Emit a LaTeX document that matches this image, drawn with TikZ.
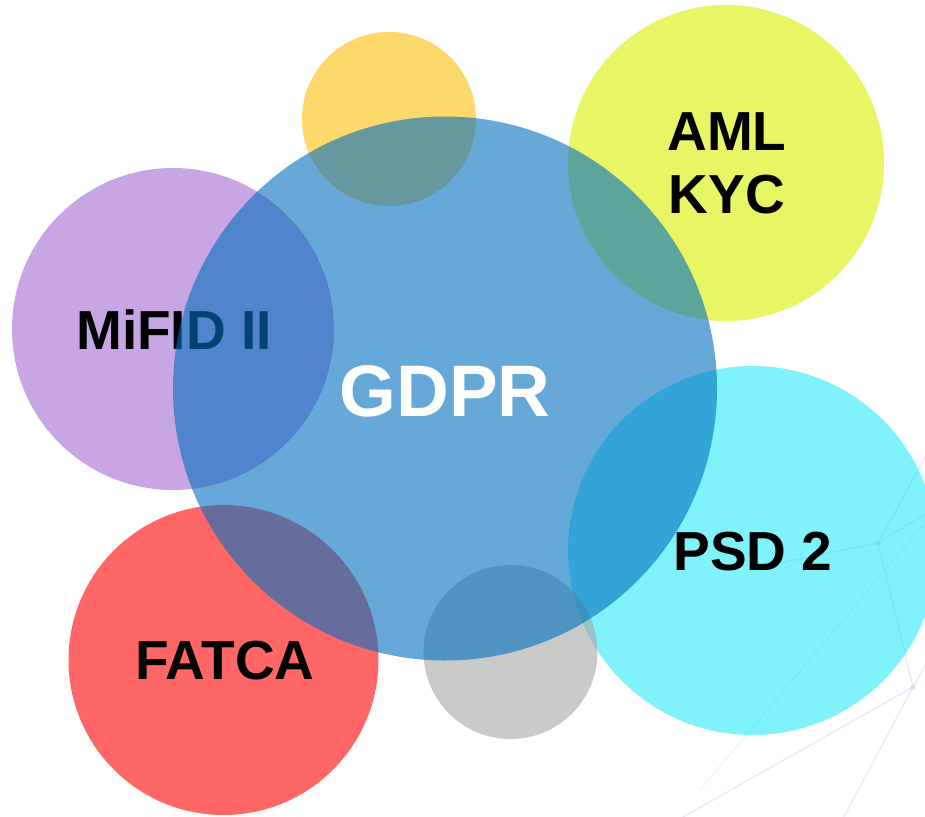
\documentclass[tikz,border=0pt]{standalone}
\usepackage{fontspec}
\setmainfont{Liberation Sans}
\definecolor{gdprblue}{RGB}{0,112,192}
\definecolor{sunyellow}{RGB}{253,216,106}
\definecolor{limeyellow}{RGB}{232,245,100}
\definecolor{lavender}{RGB}{200,165,227}
\definecolor{coral}{RGB}{255,102,102}
\definecolor{aqua}{RGB}{0,229,250}
\definecolor{stone}{RGB}{166,166,166}
\definecolor{netline}{RGB}{205,222,245}
\tikzset{
  lbl/.style={inner sep=0pt, font=\bfseries\fontsize{55}{63}\selectfont, text=black, align=center},
  bigl/.style={inner sep=0pt, font=\bfseries\fontsize{73}{80}\selectfont, text=white},
  net/.style={draw=netline, line width=1.3pt, opacity=0.6},
}
\begin{document}
\begin{tikzpicture}[x=1pt,y=-1pt]
\useasboundingbox (0,0) rectangle (925,816);
\clip (0,0) rectangle (925,816);
% faint network background
\coordinate (n1) at (878,543);
\coordinate (n2) at (913,687);
\draw[net] (n1) -- (n2);
\draw[net] (n2) -- (837,830);
\draw[net] (n2) -- (660,830);
\draw[net] (n1) -- (940,505);
\draw[net] (n1) -- (940,430);
\draw[net] (n1) -- (770,565);
\draw[net, opacity=0.35] (940,505) -- (700,790);
\draw[net] (n2) -- (940,640);
\fill[netline] (n1) circle[radius=2.5pt];
\fill[netline] (n2) circle[radius=2.5pt];
% circles
\fill[sunyellow] (389,119) circle[radius=87pt];
\fill[limeyellow] (726,163) circle[radius=158pt];
\fill[lavender] (173,329) circle[radius=161pt];
\node[lbl] (mifid) at (174,330) {MiFID II};
\fill[coral] (223.5,660) circle[radius=155pt];
\fill[aqua, opacity=0.5] (752.5,550.5) circle[radius=184.5pt];
\fill[stone, opacity=0.6] (510.5,652) circle[radius=87pt];
\fill[gdprblue, opacity=0.6] (445,388.5) circle[radius=272pt];
% labels
\node[lbl] (aml) at (727,163) {AML\\KYC};
\node[lbl] (psd) at (753,552) {PSD 2};
\node[lbl] (fatca) at (225,661) {FATCA};
\node[bigl] (gdpr) at (445,391) {GDPR};
\end{tikzpicture}
\end{document}
